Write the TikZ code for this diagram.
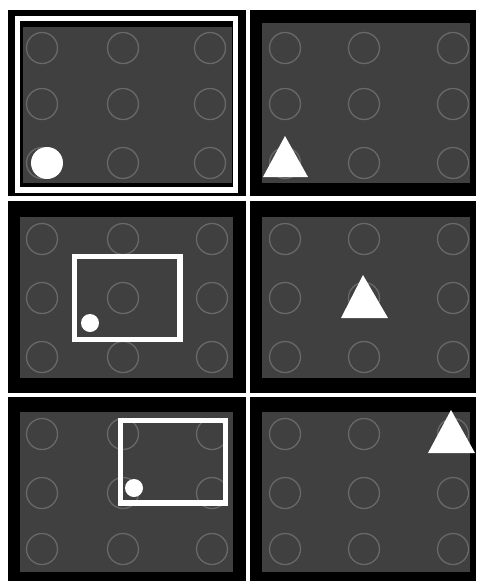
\documentclass[tikz,border=0pt]{standalone}
\definecolor{panelgray}{HTML}{404040}
\definecolor{ringgray}{HTML}{686868}
\tikzset{
  panelbg/.style={fill=black},
  panelin/.style={fill=panelgray},
  ring/.style={draw=ringgray,line width=1.3pt},
  wframe/.style={draw=white,line width=5.5pt},
  wshape/.style={fill=white}
}
\begin{document}
\begin{tikzpicture}[x=1pt,y=-1pt]
\useasboundingbox (0,0) rectangle (480,581);
\fill[white] (0,0) rectangle (480,581);
% black panels
\foreach \ya/\yb in {10/196, 201/393, 397/581}{
  \fill[panelbg] (8,\ya) rectangle (246,\yb);
  \fill[panelbg] (250,\ya) rectangle (476,\yb);
}
% gray interiors
\fill[panelin] (23,27) rectangle (232,183);
\fill[panelin] (20,217) rectangle (233,378);
\fill[panelin] (20,412) rectangle (233,572);
\fill[panelin] (262,23) rectangle (470,183);
\fill[panelin] (262,217) rectangle (470,378);
\fill[panelin] (262,412) rectangle (470,572);
% rings
\foreach \cy in {48,104,163}{
  \foreach \cx in {42,123,210}{\draw[ring] (\cx,\cy) circle (15.5);}
  \foreach \cx in {285,364,453}{\draw[ring] (\cx,\cy) circle (15.5);}
}
\foreach \cy in {239,298,357}{
  \foreach \cx in {42,123,212}{\draw[ring] (\cx,\cy) circle (15.5);}
  \foreach \cx in {285,364,453}{\draw[ring] (\cx,\cy) circle (15.5);}
}
\foreach \cy in {434,493,549}{
  \foreach \cx in {42,123,212}{\draw[ring] (\cx,\cy) circle (15.5);}
  \foreach \cx in {285,364,453}{\draw[ring] (\cx,\cy) circle (15.5);}
}
% row 1
\draw[wframe] (17.5,18.5) rectangle (235.5,190);
\fill[wshape] (47,163) circle (16);
\fill[wshape] (285,136) -- (308,177) -- (263,177) -- cycle;
% row 2
\draw[wframe] (74.5,256.5) rectangle (180,339.5);
\fill[wshape] (90,323) circle (9);
\fill[wshape] (363,275) -- (388,318) -- (341,318) -- cycle;
% row 3
\draw[wframe] (120.5,420.5) rectangle (225.5,503);
\fill[wshape] (134,488) circle (9);
\fill[wshape] (451,410) -- (475,453) -- (428,453) -- cycle;
\end{tikzpicture}
\end{document}
